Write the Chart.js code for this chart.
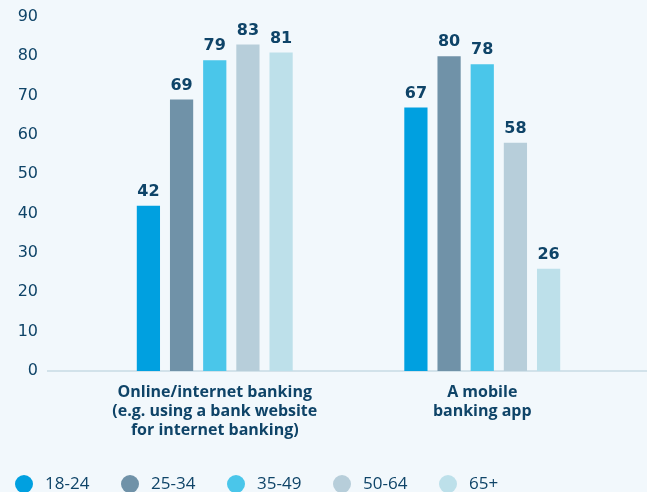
<!DOCTYPE html>
<html>
<head>
<meta charset="utf-8">
<script src="https://cdn.jsdelivr.net/npm/chart.js@4.4.1/dist/chart.umd.min.js"></script>
<style>
  html, body { margin: 0; padding: 0; background: #f2f8fc; }
  #wrap { width: 647px; height: 492px; position: relative; }
</style>
</head>
<body>
<div id="wrap"><canvas id="chart"></canvas></div>
<script>
// DATA
const categories = [
    ["Online/internet banking", "(e.g. using a bank website", "for internet banking)"],
    ["A mobile", "banking app"]
];
const ageGroups = ["18-24", "25-34", "35-49", "50-64", "65+"];
const age18_24 = [42, 67];
const age25_34 = [69, 80];
const age35_49 = [79, 78];
const age50_64 = [83, 58];
const age65plus = [81, 26];
const yTicks = [0, 10, 20, 30, 40, 50, 60, 70, 80, 90];

const colors = ["#00a0e0", "#7092a8", "#4ac6ea", "#b7ceda", "#bde0ea"];
const navy = "#0f4468";
const numFont = "'DejaVu Sans', sans-serif";
const textFont = "'Open Sans', sans-serif";

const series = [age18_24, age25_34, age35_49, age50_64, age65plus];

// baseline across the full width + value labels + legend
const extras = {
    id: "extras",
    beforeDatasetsDraw(chart) {
        const ctx = chart.ctx;
        const y0 = chart.scales.y.getPixelForValue(0);
        ctx.save();
        ctx.strokeStyle = "#d2e2ea";
        ctx.lineWidth = 2;
        ctx.beginPath();
        ctx.moveTo(47, y0);
        ctx.lineTo(chart.width, y0);
        ctx.stroke();
        ctx.restore();
    },
    afterDatasetsDraw(chart) {
        const ctx = chart.ctx;
        ctx.save();
        ctx.fillStyle = navy;
        ctx.font = "bold 16px " + numFont;
        ctx.textAlign = "center";
        ctx.textBaseline = "bottom";
        chart.data.datasets.forEach((ds, i) => {
            chart.getDatasetMeta(i).data.forEach((bar, j) => {
                ctx.fillText(ds.data[j], bar.x, bar.y - 6);
            });
        });

        // legend
        ctx.font = "17px " + textFont;
        ctx.textAlign = "left";
        ctx.textBaseline = "middle";
        const ly = 484;
        chart.data.datasets.forEach((ds, i) => {
            const cx = 24 + i * 106;
            ctx.fillStyle = ds.backgroundColor;
            ctx.beginPath();
            ctx.arc(cx, ly, 9, 0, Math.PI * 2);
            ctx.fill();
            ctx.fillStyle = navy;
            ctx.fillText(ds.label, cx + 21, ly);
        });
        ctx.restore();
    }
};

new Chart(document.getElementById("chart"), {
    type: "bar",
    data: {
        labels: categories,
        datasets: ageGroups.map((g, i) => ({
            label: g,
            data: series[i],
            backgroundColor: colors[i],
            categoryPercentage: 0.62,
            barPercentage: 0.7
        }))
    },
    options: {
        responsive: true,
        maintainAspectRatio: false,
        animation: false,
        layout: { padding: { top: 17, right: 31, left: 0, bottom: 0 } },
        plugins: {
            legend: { display: false },
            tooltip: { enabled: false }
        },
        scales: {
            x: {
                grid: { display: false, drawTicks: false },
                border: { display: false },
                ticks: {
                    color: navy,
                    padding: 12,
                    maxRotation: 0,
                    autoSkip: false,
                    font: { family: textFont, size: 16, weight: "bold", lineHeight: 1.19 }
                },
                afterFit(scale) { scale.height = 121; }
            },
            y: {
                min: 0,
                max: 90,
                afterBuildTicks(scale) { scale.ticks = yTicks.map(v => ({ value: v })); },
                grid: { display: false, drawTicks: false },
                border: { display: false },
                ticks: {
                    color: navy,
                    padding: 43,
                    font: { family: numFont, size: 16 }
                },
                afterFit(scale) {
                    scale.width = 81;
                    scale.paddingTop = 0;
                    scale.paddingBottom = 0;
                }
            }
        }
    },
    plugins: [extras]
});
</script>
</body>
</html>
